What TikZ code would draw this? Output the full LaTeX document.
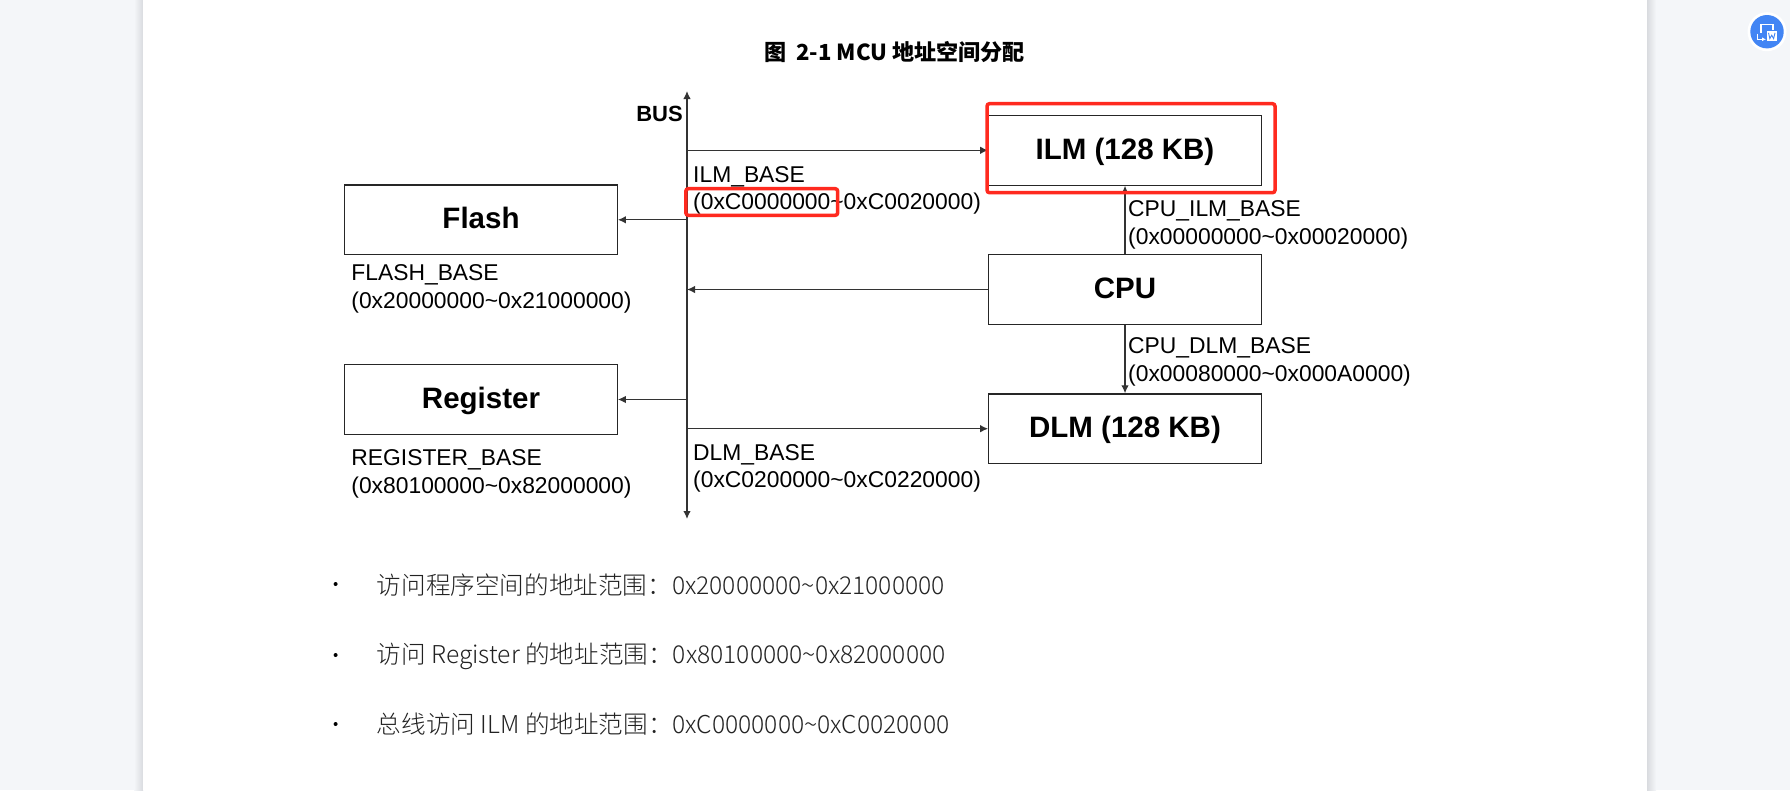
\documentclass[tikz,border=0pt]{standalone}
\usepackage{fontspec}
\setmainfont{Liberation Sans}
\newfontfamily\cjk{Noto Sans CJK SC}
\newfontfamily\cjklight[UprightFont={* Light}]{Noto Sans CJK SC}
\usetikzlibrary{calc}
\usetikzlibrary{arrows.meta}
\definecolor{pagegray}{HTML}{F4F6F9}
\definecolor{edgegray}{HTML}{D9DBDF}
\definecolor{markred}{HTML}{FF2A1F}
\definecolor{iconblue}{HTML}{4285F4}
\definecolor{bodygray}{HTML}{222222}
\tikzset{
  memblock/.style={draw=black!85,line width=1.2pt,minimum width=272.5pt,minimum height=69.6pt,inner sep=0pt,text height=18pt,text depth=0pt,font=\fontsize{29.5}{32}\selectfont\bfseries},
  addr/.style={align=left,anchor=west,inner sep=0pt,font=\fontsize{22.85}{27.4}\selectfont},
  bodyline/.style={anchor=west,inner sep=0pt,text=bodygray,font=\fontsize{24.6}{28}\selectfont\cjklight},
  busline/.style={draw=black!80,line width=1.3pt,>={Latex[length=8pt,width=7.5pt]}},
  markbox/.style={draw=markred,line width=3.5pt,rounded corners=2.5pt}
}
\begin{document}
\begin{tikzpicture}[x=1pt,y=-1pt]
\useasboundingbox (0,0) rectangle (1790,790);
\coordinate (pg_st) at (143,0);
\coordinate (pg_e) at (1647,790);
\fill[pagegray] (0,0) rectangle (1790,790);
\shade[left color=pagegray,right color=edgegray] ($(pg_st)+(-9,0)$) rectangle ($(pg_st)+(0,790)$);
\shade[left color=edgegray,right color=pagegray] ($(pg_e)+(0,-790)$) rectangle ($(pg_e)+(9,0)$);
\fill[white] (pg_st) rectangle (pg_e);

\node[inner sep=0pt,font=\fontsize{22.1}{24}\selectfont\cjk\bfseries] (title) at (894.5,52) {图\ \ 2-1 MCU 地址空间分配};

\node[memblock] (ILM) at (1125,150.3) {ILM (128 KB)};
\node[memblock] (CPU) at (1125,289.5) {CPU};
\node[memblock] (DLM) at (1125,428.7) {DLM (128 KB)};
\node[memblock] (Flash) at (481,219.8) {Flash};
\node[memblock] (Register) at (481,399.5) {Register};

\coordinate (bus_st) at (687,519);
\coordinate (bus_e) at (687,91);
\coordinate (bus_mid) at (687,300);
\draw[busline,<->] (bus_st)--(bus_e);
\node[anchor=east,inner sep=0pt,font=\fontsize{22}{24}\selectfont\bfseries] (BUS) at (683,114) {BUS};

\draw[busline,->] (bus_mid |- ILM)--(ILM);
\draw[busline,->] (bus_mid |- Flash)--(Flash);
\draw[busline,->] (CPU)--(bus_mid |- CPU);
\draw[busline,->] (bus_mid |- Register)--(Register);
\draw[busline,->] (bus_mid |- DLM)--(DLM);
\draw[busline,->] (CPU)--(ILM);
\draw[busline,->] (CPU)--(DLM);

\node[addr] (ILM_base) at (693,190.3) {ILM\_BASE\\(0xC0000000\textasciitilde 0xC0020000)};
\node[addr] (DLM_base) at (693,468.6) {DLM\_BASE\\(0xC0200000\textasciitilde 0xC0220000)};
\node[addr] (Flash_base) at (351.2,288.8) {FLASH\_BASE\\(0x20000000\textasciitilde 0x21000000)};
\node[addr] (Reg_base) at (351.2,473.8) {REGISTER\_BASE\\(0x80100000\textasciitilde 0x82000000)};
\node[addr] (CPU_ILM_base) at (1128,224.9) {CPU\_ILM\_BASE\\(0x00000000\textasciitilde 0x00020000)};
\node[addr] (CPU_DLM_base) at (1128,361.9) {CPU\_DLM\_BASE\\(0x00080000\textasciitilde 0x000A0000)};

\coordinate (mark_st) at (987,103.7);
\coordinate (mark_e) at (1275,192.7);
\coordinate (mark2_st) at (685.8,188.7);
\coordinate (mark2_e) at (837.7,215.3);
\draw[markbox] (mark_st) rectangle (mark_e);
\draw[markbox] (mark2_st) rectangle (mark2_e);

\foreach \yy in {584,655,724}
  \fill[black] (335.6,\yy) circle (2pt);
\node[bodyline] (line_a) at (376.7,584.8) {访问程序空间的地址范围：0x20000000\textasciitilde 0x21000000};
\node[bodyline] (line_b) at (376.7,656.6) {访问 Register 的地址范围：0x80100000\textasciitilde 0x82000000};
\node[bodyline] (line_c) at (376.7,724.5) {总线访问 ILM 的地址范围：0xC0000000\textasciitilde 0xC0020000};

% side button
\coordinate (btn) at (1767,31.7);
\fill[white] (btn) circle (19.5pt);
\fill[iconblue] (btn) circle (16.7pt);
\draw[white,line width=1.3pt] (1761,33) |- (1773,24.5)--(1773,30);
\fill[white] (1766.7,30.7) rectangle (1776.7,40.7);
\draw[iconblue,line width=0.9pt] (1768.5,32.8)--(1769.8,38.6)--(1771.7,35.2)--(1773.6,38.6)--(1775,32.8);
\draw[white,line width=1.3pt,-{Latex[length=4pt,width=4pt]}] (1757.7,33.5)--(1757.7,39.3)--(1766,39.3);
\end{tikzpicture}
\end{document}
